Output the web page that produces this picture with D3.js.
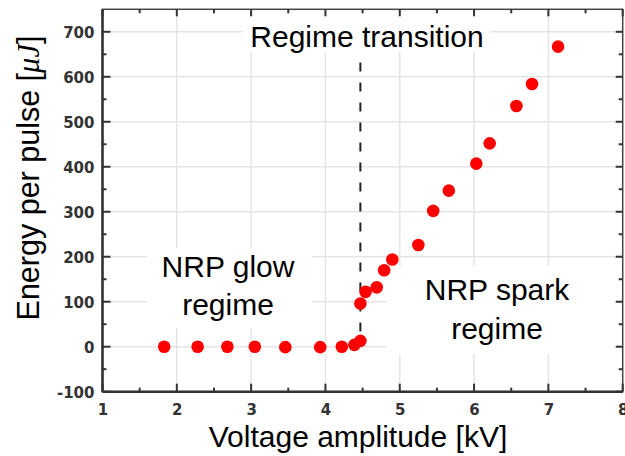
<!DOCTYPE html>
<html>
<head>
<meta charset="utf-8">
<script src="https://cdn.jsdelivr.net/npm/d3@7/dist/d3.min.js"></script>
<style>
  html, body { margin: 0; padding: 0; background: #fff; }
  svg { display: block; }
</style>
</head>
<body>
<svg id="chart" width="625" height="456"></svg>
<script>
// Data
const voltage = [1.83, 2.28, 2.68, 3.05, 3.46, 3.93, 4.22, 4.39, 4.47, 4.47, 4.54, 4.69, 4.79, 4.90, 5.25, 5.45, 5.66, 6.03, 6.21, 6.57, 6.78, 7.13];
const energy  = [0, 0, 0, 0, -1, -1, 0, 4, 13, 96, 122, 132, 170, 194, 226, 302, 347, 407, 452, 535, 584, 667];
const xTicks = [1, 2, 3, 4, 5, 6, 7, 8];
const yTicks = [-100, 0, 100, 200, 300, 400, 500, 600, 700];
const transitionX = 4.47;
const transitionRange = [0, 632];

const svg = d3.select("#chart");
const L = 102.5, R = 622.7, T = 9.3, B = 391.7;
const x = d3.scaleLinear().domain([1, 8]).range([L, R]);
const y = d3.scaleLinear().domain([-100, 750]).range([B, T]);

const gridColor = "#e5e5e5";
// grid
const grid = svg.append("g");
grid.selectAll(".gx").data(xTicks.filter(d => d > 1 && d < 8)).enter().append("line")
  .attr("x1", d => x(d)).attr("x2", d => x(d)).attr("y1", T).attr("y2", B)
  .attr("stroke", gridColor).attr("stroke-width", 1.5);
grid.selectAll(".gy").data(yTicks.filter(d => d > -100)).enter().append("line")
  .attr("x1", L).attr("x2", R).attr("y1", d => y(d)).attr("y2", d => y(d))
  .attr("stroke", gridColor).attr("stroke-width", 1.5);

// white label boxes
const boxes = [[243, 14, 247, 38], [147, 248, 165, 80], [386, 266, 237, 88]];
svg.append("g").selectAll("rect").data(boxes).enter().append("rect")
  .attr("x", d => d[0]).attr("y", d => d[1]).attr("width", d => d[2]).attr("height", d => d[3])
  .attr("fill", "#fff");

// dashed transition line
svg.append("line")
  .attr("x1", x(transitionX)).attr("x2", x(transitionX))
  .attr("y1", y(transitionRange[1])).attr("y2", y(transitionRange[0]))
  .attr("stroke", "#222").attr("stroke-width", 2).attr("stroke-dasharray", "9,11");

// points
svg.append("g").selectAll("circle").data(voltage.map((v, i) => [v, energy[i]])).enter().append("circle")
  .attr("cx", d => x(d[0])).attr("cy", d => y(d[1])).attr("r", 6.3)
  .attr("fill", "#ff0000");

// axes
const axisColor = "#333";
const fmt = d => String(d);
const gBottom = svg.append("g").attr("transform", `translate(0,${B})`)
  .call(d3.axisBottom(x).tickValues(xTicks).tickSize(0).tickPadding(12).tickFormat(fmt));
const gLeft = svg.append("g").attr("transform", `translate(${L},0)`)
  .call(d3.axisLeft(y).tickValues(yTicks).tickSize(0).tickPadding(8).tickFormat(fmt));
[gBottom, gLeft].forEach(g => {
  g.select(".domain").remove();
  g.selectAll("text").attr("font-family", "'DejaVu Sans', sans-serif").attr("font-weight", "bold")
    .attr("font-size", 15).attr("fill", "#333");
});
gLeft.selectAll("text").attr("dy", "0.36em");
gBottom.selectAll("text").attr("dy", "0.75em");

// frame
svg.append("rect").attr("x", L).attr("y", T).attr("width", R - L).attr("height", B - T)
  .attr("fill", "none").attr("stroke", "#444").attr("stroke-width", 1.5);
svg.append("line").attr("x1", L).attr("x2", R).attr("y1", B).attr("y2", B).attr("stroke", axisColor).attr("stroke-width", 2.5);
svg.append("line").attr("x1", L).attr("x2", L).attr("y1", T).attr("y2", B).attr("stroke", axisColor).attr("stroke-width", 2.5);

// inward ticks
const xMajor = xTicks, xMinor = d3.range(1.5, 8, 1);
const yMajor = yTicks, yMinor = d3.range(-50, 750, 100);
const tk = svg.append("g").attr("stroke", axisColor).attr("stroke-width", 2);
xMajor.forEach(v => {
  tk.append("line").attr("x1", x(v)).attr("x2", x(v)).attr("y1", B).attr("y2", B - 8);
  tk.append("line").attr("x1", x(v)).attr("x2", x(v)).attr("y1", T).attr("y2", T + 7);
});
xMinor.forEach(v => {
  tk.append("line").attr("x1", x(v)).attr("x2", x(v)).attr("y1", B).attr("y2", B - 4);
  tk.append("line").attr("x1", x(v)).attr("x2", x(v)).attr("y1", T).attr("y2", T + 4);
});
yMajor.forEach(v => {
  tk.append("line").attr("x1", L).attr("x2", L + 8).attr("y1", y(v)).attr("y2", y(v));
  tk.append("line").attr("x1", R).attr("x2", R - 7).attr("y1", y(v)).attr("y2", y(v));
});
yMinor.forEach(v => {
  tk.append("line").attr("x1", L).attr("x2", L + 4).attr("y1", y(v)).attr("y2", y(v));
  tk.append("line").attr("x1", R).attr("x2", R - 4).attr("y1", y(v)).attr("y2", y(v));
});

// annotations
const font = "'Liberation Sans', Arial, sans-serif";
function label(txt, cx, by) {
  svg.append("text").attr("x", cx).attr("y", by).attr("text-anchor", "middle")
    .attr("font-family", font).attr("font-size", 30).attr("fill", "#000").text(txt);
}
label("Regime transition", 367, 46.7);
label("NRP glow", 228, 277.3);
label("regime", 228, 315);
label("NRP spark", 497, 300);
label("regime", 497, 338.5);

// axis titles
svg.append("text").attr("x", 358).attr("y", 447).attr("text-anchor", "middle")
  .attr("font-family", font).attr("font-size", 30).attr("fill", "#000")
  .text("Voltage amplitude [kV]");

const yt = svg.append("text").attr("transform", "translate(39,178) rotate(-90)")
  .attr("text-anchor", "middle").attr("font-family", font).attr("font-size", 30.5).attr("fill", "#000");
yt.append("tspan").text("Energy per pulse [");
yt.append("tspan").attr("font-family", "'Liberation Serif', serif").attr("font-style", "italic").text("μJ");
yt.append("tspan").text("]");
</script>
</body>
</html>
